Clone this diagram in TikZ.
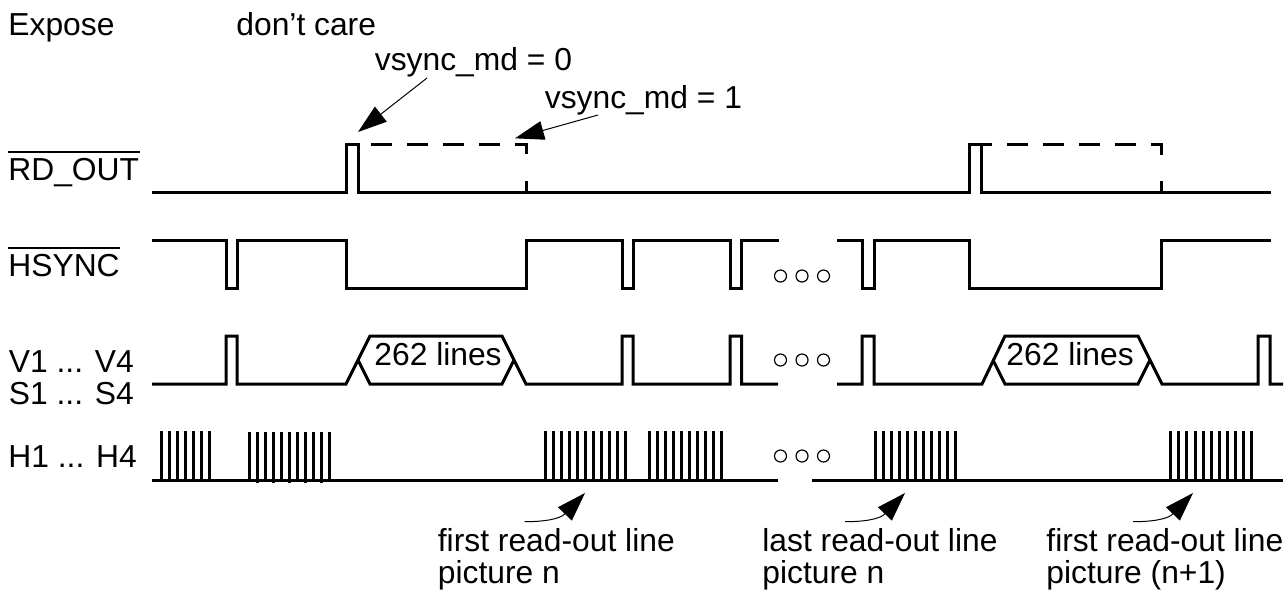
\documentclass[tikz,border=0pt]{standalone}
\usepackage{fontspec}
\setmainfont{Liberation Sans}
\usetikzlibrary{arrows.meta}
\tikzset{
  wave/.style={line width=1.5pt},
  dashwave/.style={line width=1.5pt, dash pattern=on 10.5pt off 7.5pt},
  bar/.style={line width=1pt},
  lbl/.style={anchor=base west, inner sep=0pt, font=\fontsize{15.9}{16}\selectfont, align=left},
  dot/.style={circle, draw, inner sep=0pt, minimum size=6pt, line width=.6pt},
  callout/.style={line width=.5pt, -{Triangle[length=14.5pt, width=9.5pt]}}
}
\begin{document}
\begin{tikzpicture}[x=.5pt, y=-.5pt]
  \useasboundingbox (0,0) rectangle (1288,591);

  \node (expose) at (8,35) [lbl] {Expose};
  \node (care) at (236,35) [lbl] {don’t care};
  \node (md0) at (374.5,70) [lbl] {vsync\_md = 0};
  \node (md1) at (544.5,108.3) [lbl] {vsync\_md = 1};
  \node (rdout) at (8,180) [lbl] {RD\_OUT};
  \node (hsync) at (8,276.7) [lbl] {HSYNC};
  \node (vs) at (8.5,404) [lbl] {V1 ... V4\\S1 ... S4};
  \node (hclk) at (8,467.7) [lbl] {H1 ... H4};
  \node (lines0) at (374,365) [lbl] {262 lines};
  \node (lines1) at (1006,365) [lbl] {262 lines};
  \node (first0) at (437.5,583.5) [lbl] {first read-out line\\picture n};
  \node (last0) at (762,583.5) [lbl] {last read-out line\\picture n};
  \node (first1) at (1046,583.5) [lbl] {first read-out line\\picture (n+1)};

  \draw[bar] ([yshift=2.9pt]rdout.north west) -- ([yshift=2.9pt]rdout.north east);
  \draw[bar] ([yshift=2.9pt]hsync.north west) -- ([yshift=2.9pt]hsync.north east);

  % RD_OUT
  \draw[wave] (152,192) -- (346,192) -- (346,144) -- (358,144) -- (358,192) -- (969.5,192)
    -- (969.5,144) -- (991.5,144);
  \draw[wave] (981.7,144) -- (981.7,192) -- (1271,192);
  \draw[dashwave] (371,144) -- (526,144) -- (526,156);
  \draw[wave] (526,181) -- (526,192);
  \draw[dashwave] (1007,144) -- (1161,144) -- (1161,156);
  \draw[wave] (1161,181) -- (1161,192);

  % HSYNC
  \draw[wave] (152,240) -- (226,240) -- (226,288) -- (237,288) -- (237,240) -- (346,240)
    -- (346,288) -- (526,288) -- (526,240) -- (622,240) -- (622,288) -- (633,288)
    -- (633,240) -- (730,240) -- (730,288) -- (741.7,288) -- (741.7,240) -- (779,240);
  \draw[wave] (837,240) -- (862,240) -- (862,288) -- (874,288) -- (874,240) -- (969.5,240)
    -- (969.5,288) -- (1161,288) -- (1161,240) -- (1271,240);

  % V and S
  \draw[wave] (152,384) -- (226,384) -- (226,336) -- (237,336) -- (237,384) -- (346,384)
    -- (370,336) -- (502,336) -- (526,384) -- (622,384) -- (622,336) -- (633,336)
    -- (633,384) -- (730,384) -- (730,336) -- (741.7,336) -- (741.7,384) -- (778,384);
  \draw[wave] (358,360) -- (370,384) -- (502,384) -- (514,360);
  \draw[wave] (837,384) -- (862,384) -- (862,336) -- (874,336) -- (874,384) -- (982,384)
    -- (1005,336) -- (1138,336) -- (1162,384) -- (1258,384) -- (1258,336) -- (1270,336)
    -- (1270,384) -- (1283,384);
  \draw[wave] (993,360) -- (1005,384) -- (1138,384) -- (1150,360);

  % H
  \draw[wave] (152,480) -- (778,480);
  \draw[wave] (812,480) -- (1283,480);
  \foreach \i in {0,...,6}
    \draw[wave] ({161+8.07*\i},431) -- ({161+8.07*\i},480);
  \foreach \i in {0,2,...,10}
    \draw[wave] ({249+8.07*\i},432) -- ({249+8.07*\i},480);
  \foreach \i in {1,3,...,9}
    \draw[wave] ({249+8.07*\i},432) -- ({249+8.07*\i},483);
  \foreach \i in {0,...,10}
    \draw[wave] ({545+8.07*\i},431) -- ({545+8.07*\i},480);
  \foreach \i in {0,...,9}
    \draw[wave] ({649.3+8.05*\i},431) -- ({649.3+8.05*\i},480);
  \foreach \i in {0,...,10}
    \draw[wave] ({875+8.07*\i},431) -- ({875+8.07*\i},480);
  \foreach \i in {0,...,10}
    \draw[wave] ({1170.7+8.1*\i},431) -- ({1170.7+8.1*\i},480);

  % gaps
  \node (h0) at (780.5,276) [dot] {};
  \node (h1) at (802,276) [dot] {};
  \node (h2) at (823.5,276) [dot] {};
  \node (v0) at (780.5,360) [dot] {};
  \node (v1) at (802,360) [dot] {};
  \node (v2) at (823.5,360) [dot] {};
  \node (c0) at (780.5,456) [dot] {};
  \node (c1) at (802,456) [dot] {};
  \node (c2) at (823.5,456) [dot] {};

  % callouts
  \coordinate (md0tail) at (427,78);
  \coordinate (md0tip) at (358,132);
  \coordinate (md1tail) at (598,115);
  \coordinate (md1tip) at (515,138.3);
  \coordinate (first0tail) at (524.5,521.7);
  \coordinate (first0tip) at (585,493);
  \coordinate (last0tail) at (845,521.7);
  \coordinate (last0tip) at (905,493);
  \coordinate (first1tail) at (1133,521.7);
  \coordinate (first1tip) at (1193,493);

  \draw[callout] (md0tail) -- (md0tip);
  \draw[callout] (md1tail) -- (md1tip);
  \draw[callout] (first0tail) .. controls +(20,0) and +(-25,26) .. (first0tip);
  \draw[callout] (last0tail) .. controls +(20,0) and +(-25,26) .. (last0tip);
  \draw[callout] (first1tail) .. controls +(20,0) and +(-25,26) .. (first1tip);
\end{tikzpicture}
\end{document}
